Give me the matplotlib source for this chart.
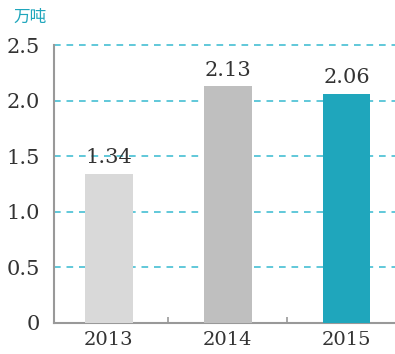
import matplotlib
matplotlib.use('Agg')
import matplotlib.pyplot as plt

years = ['2013', '2014', '2015']
values = [1.34, 2.13, 2.06]
bar_colors = ['#d9d9d9', '#bfbfbf', '#1fa6bc']
y_ticks = [0, 0.5, 1.0, 1.5, 2.0, 2.5]
y_labels = ['0', '0.5', '1.0', '1.5', '2.0', '2.5']
unit = '万吨'

num_font = 'DejaVu Serif'


def main():
    fig = plt.figure(figsize=(3.95, 3.54), dpi=100)
    ax = fig.add_axes([0.137, 0.0876, 0.87, 0.785])

    x = range(len(years))
    bars = ax.bar(x, values, width=0.4, color=bar_colors, zorder=3)

    # value labels above the bars
    for rect, v in zip(bars, values):
        ax.text(rect.get_x() + rect.get_width() / 2, v + 0.06, f'{v:.2f}',
                ha='center', va='bottom', fontsize=15, color='#333333',
                family=num_font)

    # dashed horizontal guides
    for yv in y_ticks[1:]:
        ax.axhline(yv, color='#45bfd3', linestyle=(0, (4, 3.5)), linewidth=1.2,
                   zorder=1, clip_on=False)

    ax.set_ylim(0, 2.5)
    ax.set_xlim(-0.46, 2.43)
    ax.set_yticks(y_ticks)
    ax.set_yticklabels(y_labels, family=num_font, fontsize=15, color='#333333')
    ax.tick_params(axis='y', length=0, pad=10)

    # years as minor labels, category separators as major ticks
    ax.set_xticks([0.5, 1.5])
    ax.set_xticklabels([])
    ax.set_xticks(list(x), minor=True)
    ax.set_xticklabels(years, minor=True, family=num_font, fontsize=14, color='#333333')
    ax.tick_params(axis='x', which='major', direction='in', length=4, color='#999999', width=1.2)
    ax.tick_params(axis='x', which='minor', length=0, pad=6)

    for side in ['top', 'right']:
        ax.spines[side].set_visible(False)
    for side in ['left', 'bottom']:
        ax.spines[side].set_color('#999999')
        ax.spines[side].set_linewidth(1.5)

    fig.text(0.035, 0.95, unit, fontsize=12, color='#1fa6bc',
             family=['Noto Sans CJK SC', 'DejaVu Sans'], va='center', ha='left')

    plt.savefig('out.png', dpi=100)


if __name__ == "__main__":
    main()
